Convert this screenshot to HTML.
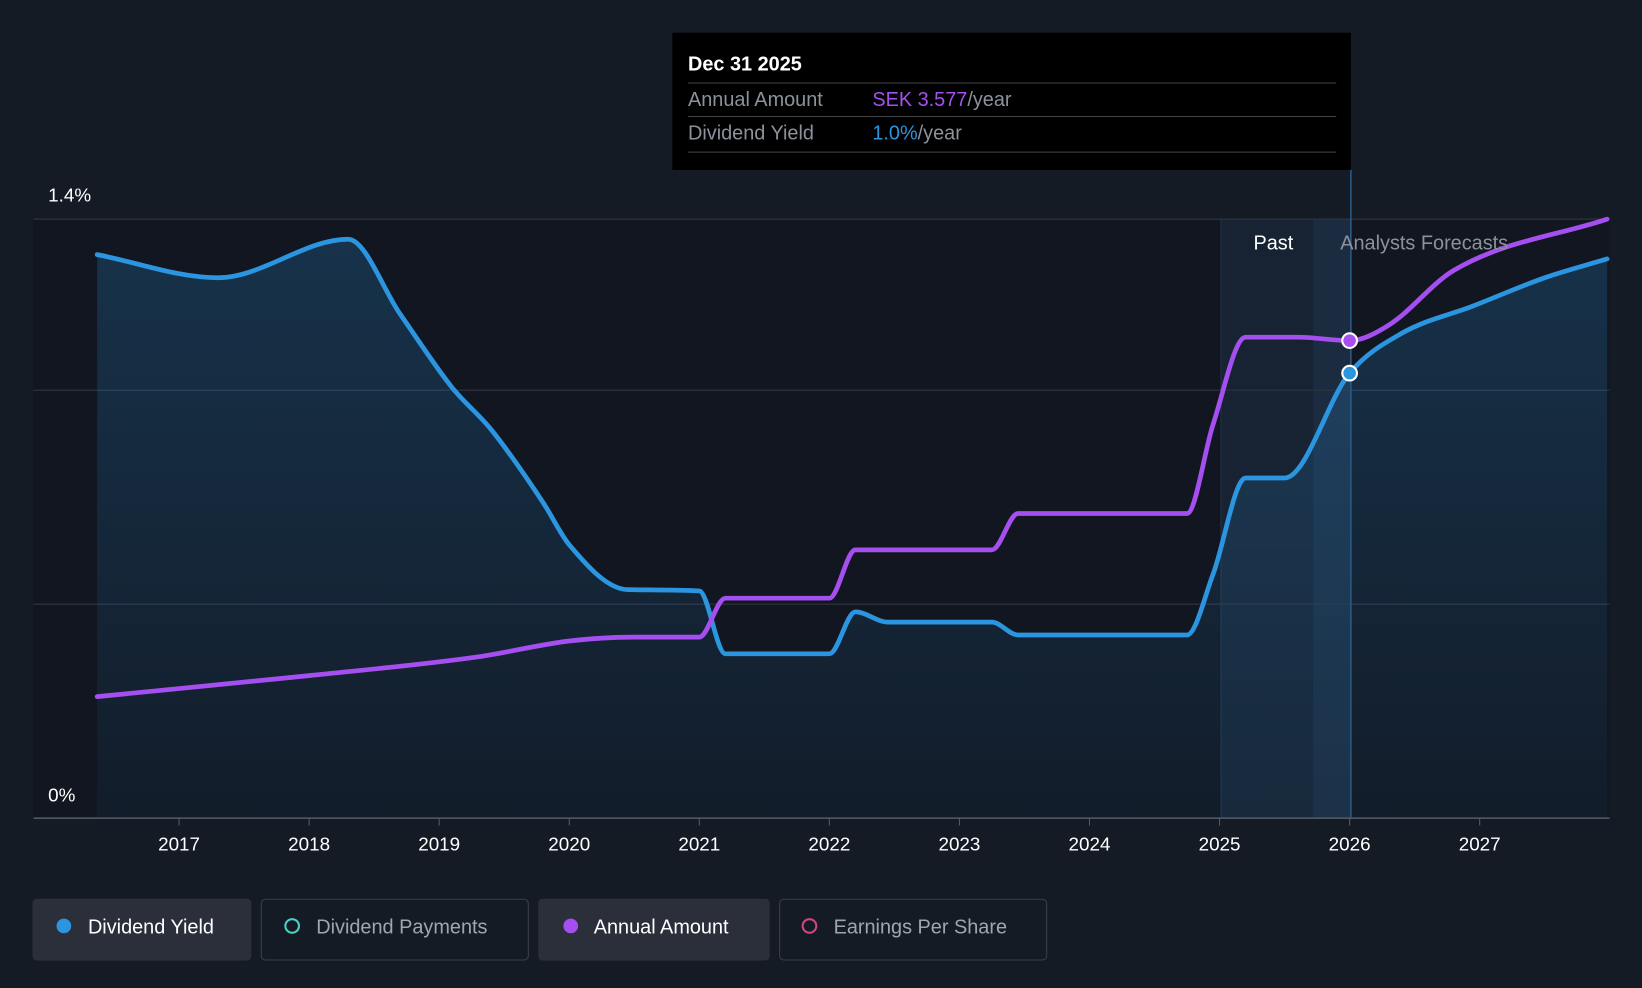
<!DOCTYPE html>
<html><head><meta charset="utf-8"><style>
html,body{margin:0;padding:0;background:#151b25;}
svg{display:block;font-family:"Liberation Sans",sans-serif;}
</style></head><body>
<svg id="chart" width="1642" height="988" viewBox="0 0 1568 943">
<defs><linearGradient id="ag" x1="0" y1="0" x2="0" y2="1"><stop offset="0" stop-color="#2b95e0" stop-opacity="0.22"/><stop offset="1" stop-color="#2b95e0" stop-opacity="0.05"/></linearGradient></defs>
<rect width="1568" height="943" fill="#151b25"/>
<rect x="32" y="209" width="1505" height="572" fill="#111620"/>
<rect x="1166" y="209" width="124" height="572" fill="#172333"/>
<rect x="1254" y="209" width="36" height="572" fill="#1b2c40"/>
<line x1="1166" y1="209" x2="1166" y2="781" stroke="#22344a"/>
<g id="grid"></g>
<g id="series"></g>
<line x1="1290" y1="162" x2="1290" y2="781" stroke="#2a5a85" stroke-width="1.5"/>
<text x="1216" y="238" fill="#ffffff" font-size="19" text-anchor="middle">Past</text>
<text x="1360" y="238" fill="#8b929c" font-size="19" text-anchor="middle">Analysts Forecasts</text>
<text x="46" y="192" fill="#ffffff" font-size="18">1.4%</text>
<text x="46" y="765" fill="#ffffff" font-size="18">0%</text>
<g id="xaxis"></g>
<g id="markers"></g>
<g>
<rect x="642" y="31" width="648" height="131" fill="#000000"/>
<text x="657" y="67" fill="#ffffff" font-size="19" font-weight="bold">Dec 31 2025</text>
<line x1="657" y1="79" x2="1276" y2="79" stroke="#444"/>
<text x="657" y="101" fill="#8b929c" font-size="19">Annual Amount</text>
<text x="833" y="101" font-size="19"><tspan fill="#a54ff0">SEK 3.577</tspan><tspan fill="#8b929c">/year</tspan></text>
<line x1="657" y1="111" x2="1276" y2="111" stroke="#444"/>
<text x="657" y="133" fill="#8b929c" font-size="19">Dividend Yield</text>
<text x="833" y="133" font-size="19"><tspan fill="#2b95e0">1.0%</tspan><tspan fill="#8b929c">/year</tspan></text>
<line x1="657" y1="145" x2="1276" y2="145" stroke="#444"/>
</g>
<g>
<g><rect x="31" y="858" width="209" height="59" rx="4" fill="#2a2f3a"/><circle cx="61" cy="884" r="7" fill="#2b95e0"/><text x="84" y="891" fill="#fff" font-size="19">Dividend Yield</text></g>
<g><rect x="249.5" y="858.5" width="255" height="58" rx="4" fill="none" stroke="#3a404b"/><circle cx="279" cy="884" r="6.5" fill="none" stroke="#4ecdc4" stroke-width="2"/><text x="302" y="891" fill="#a0a6ae" font-size="19">Dividend Payments</text></g>
<g><rect x="514" y="858" width="221" height="59" rx="4" fill="#2a2f3a"/><circle cx="545" cy="884" r="7" fill="#a54ff0"/><text x="567" y="891" fill="#fff" font-size="19">Annual Amount</text></g>
<g><rect x="744.5" y="858.5" width="255" height="58" rx="4" fill="none" stroke="#3a404b"/><circle cx="773" cy="884" r="6.5" fill="none" stroke="#d0457a" stroke-width="2"/><text x="796" y="891" fill="#a0a6ae" font-size="19">Earnings Per Share</text></g>
</g>
</svg>
<script>
const yieldYears=[2016.37,2017.3,2018.3,2018.7,2019.1,2019.4,2019.8,2020.0,2020.45,2021.0,2021.2,2022.0,2022.2,2022.45,2023.25,2023.45,2024.75,2024.95,2025.2,2025.5,2026.0,2026.4,2026.95,2027.5,2027.98];
const yieldValues=[1.317,1.263,1.353,1.178,1.006,0.908,0.737,0.639,0.534,0.531,0.384,0.384,0.482,0.458,0.458,0.428,0.428,0.570,0.795,0.795,1.040,1.133,1.197,1.263,1.307];
const amountYears=[2016.37,2018.0,2019.3,2020.0,2020.5,2021.0,2021.2,2022.0,2022.2,2023.25,2023.45,2024.75,2024.95,2025.2,2025.6,2026.0,2026.3,2026.8,2027.98];
const amountValues=[0.284,0.333,0.377,0.414,0.423,0.423,0.514,0.514,0.627,0.627,0.712,0.712,0.920,1.124,1.124,1.116,1.152,1.280,1.4];
const xTicks=[2017,2018,2019,2020,2021,2022,2023,2024,2025,2026,2027];
const gridValues=[0.5,1.0,1.4];
const hoverYear=2026.0;
const NS="http://www.w3.org/2000/svg";
const xs=t=>171+(t-2017)*124.2;
const ys=v=>781-v/1.4*572;
function mk(tag,attrs,parent){const e=document.createElementNS(NS,tag);for(const k in attrs)e.setAttribute(k,attrs[k]);parent.appendChild(e);return e;}
function monotone(px,py){const n=px.length,d=[],m=[];for(let i=0;i<n-1;i++)d.push((py[i+1]-py[i])/(px[i+1]-px[i]));m[0]=d[0];m[n-1]=d[n-2];for(let i=1;i<n-1;i++){m[i]=(d[i-1]*d[i]<=0)?0:(d[i-1]+d[i])/2;}
for(let i=0;i<n-1;i++){if(d[i]===0){m[i]=0;m[i+1]=0;continue;}const a=m[i]/d[i],b=m[i+1]/d[i],s=a*a+b*b;if(s>9){const t=3/Math.sqrt(s);m[i]=t*a*d[i];m[i+1]=t*b*d[i];}}
let p=`M${px[0]},${py[0]}`;for(let i=0;i<n-1;i++){const h=(px[i+1]-px[i])/3;p+=` C${px[i]+h},${py[i]+m[i]*h} ${px[i+1]-h},${py[i+1]-m[i+1]*h} ${px[i+1]},${py[i+1]}`;}return p;}
const grid=document.getElementById('grid');
gridValues.forEach(v=>{const l=mk('line',{x1:32,x2:1537,y1:ys(v),y2:ys(v),stroke:'#2c333e','stroke-width':1.2},grid);

});
const ser=document.getElementById('series');
const ypx=yieldYears.map(xs),ypy=yieldValues.map(ys);
const yPath=monotone(ypx,ypy);
const area=mk('path',{d:yPath+` L${ypx[ypx.length-1]},781 L${ypx[0]},781 Z`,fill:'url(#ag)'},ser);


const yl=mk('path',{d:yPath,fill:'none',stroke:'#2b95e0','stroke-width':4.5,'stroke-linecap':'round'},ser);


const al=mk('path',{d:monotone(amountYears.map(xs),amountValues.map(ys)),fill:'none',stroke:'#a54ff0','stroke-width':4.5,'stroke-linecap':'round'},ser);


const ax=document.getElementById('xaxis');
const base=mk('line',{x1:32,x2:1537,y1:781,y2:781,stroke:'#555c66','stroke-width':1.5},ax);


xTicks.forEach(t=>{const tk=mk('line',{x1:xs(t),x2:xs(t),y1:781,y2:788,stroke:'#555c66'},ax);


const tx=mk('text',{x:xs(t),y:812,fill:'#ffffff','font-size':18,'text-anchor':'middle'},ax);tx.textContent=t;

});
function interp(X,Y,x){for(let i=0;i<X.length-1;i++)if(x>=X[i]&&x<=X[i+1])return Y[i]+(Y[i+1]-Y[i])*(x-X[i])/(X[i+1]-X[i]);return Y[Y.length-1];}
const mg=document.getElementById('markers');
const m1=mk('circle',{cx:xs(hoverYear),cy:ys(interp(amountYears,amountValues,hoverYear)),r:7,fill:'#a54ff0',stroke:'#fff','stroke-width':2},mg);


const m2=mk('circle',{cx:xs(hoverYear),cy:ys(interp(yieldYears,yieldValues,hoverYear)),r:7,fill:'#2b95e0',stroke:'#fff','stroke-width':2},mg);


</script>
</body></html>
